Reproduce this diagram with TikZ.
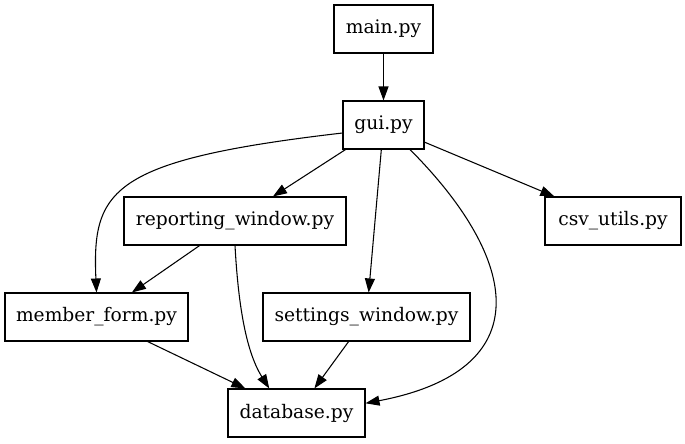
\documentclass[tikz,border=0pt]{standalone}
\usepackage{fontspec}
\setmainfont{DejaVu Serif}
\usetikzlibrary{arrows.meta}

\begin{document}
\begin{tikzpicture}[
    x=0.75pt, y=-0.75pt,
    >={Triangle[length=10.5pt,width=7.5pt]},
    every node/.style={font=\fontsize{14pt}{16pt}\selectfont},
    mod/.style={
        rectangle, draw, line width=0.8pt,
        minimum height=36pt, inner xsep=4pt,
    },
    dep/.style={->, line width=0.8pt},
]

\useasboundingbox (0,0) rectangle (685,443);

% --- modules ---
\node[mod, minimum width=74.25pt]  (main)      at (383.5,29)  {main.py};
\node[mod, minimum width=60.75pt]  (gui)       at (383.5,125) {gui.py};
\node[mod, minimum width=166.5pt]  (reporting) at (235,221)   {reporting\_window.py};
\node[mod, minimum width=102pt]    (csv)       at (613,221)   {csv\_utils.py};
\node[mod, minimum width=137.25pt] (member)    at (96.5,317)  {member\_form.py};
\node[mod, minimum width=155.25pt] (settings)  at (366.5,317) {settings\_window.py};
\node[mod, minimum width=102.75pt] (database)  at (296.5,413) {database.py};

% --- imports ---
\draw[dep] (main) -- (gui);
\draw[dep] (gui) -- (reporting);
\draw[dep] (gui) -- (settings);
\draw[dep] (gui) -- (csv);
\draw[dep] (gui.west |- 0,133) .. controls (110,160) and (92,190) .. (member.north);
\draw[dep] (410,0 |- gui.south) .. controls (520,260) and (540,370) .. (database.8);
\draw[dep] (reporting) -- (member);
\draw[dep] (reporting.south) .. controls (238,300) and (245,350) .. (database.138);
\draw[dep] (member) -- (database);
\draw[dep] (settings) -- (database);

\end{tikzpicture}
\end{document}
